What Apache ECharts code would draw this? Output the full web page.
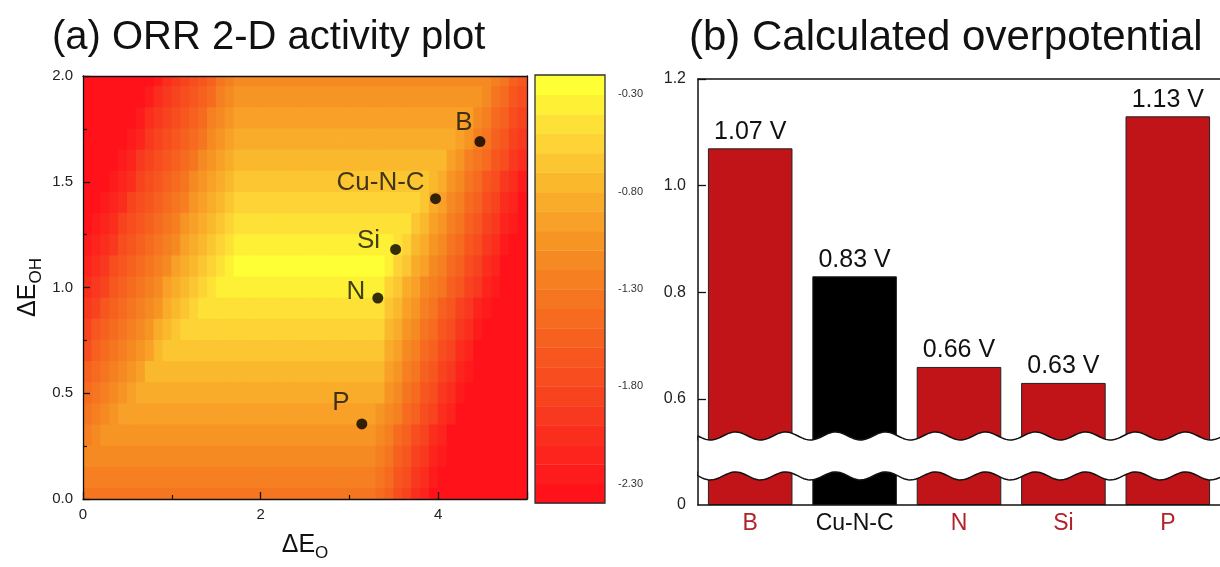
<!DOCTYPE html>
<html><head><meta charset="utf-8">
<script src="https://cdn.jsdelivr.net/npm/echarts@6/dist/echarts.min.js"></script>
<style>html,body{margin:0;padding:0;background:#fff}#c{width:1220px;height:567px}</style>
</head><body><div id="c"></div>
<script>
// ---------------- DATA ----------------
// (a) activity map: cell centres (dE_O columns, dE_OH rows) and values
const xCenters = [0.05,0.15,0.25,0.35,0.45,0.55,0.65,0.75,0.85,0.95,1.05,1.15,1.25,1.35,1.45,1.55,1.65,1.75,1.85,1.95,
  2.05,2.15,2.25,2.35,2.45,2.55,2.65,2.75,2.85,2.95,3.05,3.15,3.25,3.35,3.45,3.55,3.65,3.75,3.85,3.95,
  4.05,4.15,4.25,4.35,4.45,4.55,4.65,4.75,4.85,4.95];
const yCenters = [2.0,1.9,1.8,1.7,1.6,1.5,1.4,1.3,1.2,1.1,1.0,0.9,0.8,0.7,0.6,0.5,0.4,0.3,0.2,0.1,0.0];
const activityRows = [
 // 2.0
 [-2.4,-2.4,-2.4,-2.4,-2.4,-2.4,-2.4,-2.32,-2.21,-2.09,-1.97,-1.86,-1.74,-1.63,-1.51,-1.39,-1.28,-1.17,
  -1.15,-1.15,-1.15,-1.15,-1.15,-1.15,-1.15,-1.15,-1.15,-1.15,
  -1.15,-1.15,-1.15,-1.15,-1.15,-1.15,-1.15,-1.15,-1.15,-1.15,
  -1.15,-1.15,-1.15,-1.15,-1.15,-1.15,-1.15,-1.15,
  -1.22,-1.37,-1.52,-1.67],
 // 1.9
 [-2.4,-2.4,-2.4,-2.4,-2.4,-2.4,-2.32,-2.21,-2.09,-1.98,-1.86,-1.75,-1.63,-1.52,-1.41,-1.29,-1.17,-1.06,
  -1.05,-1.05,-1.05,-1.05,-1.05,-1.05,-1.05,-1.05,-1.05,-1.05,
  -1.05,-1.05,-1.05,-1.05,-1.05,-1.05,-1.05,-1.05,-1.05,-1.05,
  -1.05,-1.05,-1.05,-1.05,-1.05,-1.05,-1.05,
  -1.18,-1.33,-1.48,-1.62,-1.77],
 // 1.8
 [-2.4,-2.4,-2.4,-2.4,-2.4,-2.33,-2.21,-2.09,-1.98,-1.87,-1.75,-1.64,-1.52,-1.41,-1.29,-1.18,-1.06,
  -0.95,-0.95,-0.95,-0.95,-0.95,-0.95,-0.95,-0.95,-0.95,-0.95,
  -0.95,-0.95,-0.95,-0.95,-0.95,-0.95,-0.95,-0.95,-0.95,-0.95,
  -0.95,-0.95,-0.95,-0.95,-0.95,-0.95,
  -0.99,-1.14,-1.28,-1.43,-1.58,-1.73,-1.88],
 // 1.7
 [-2.4,-2.4,-2.4,-2.4,-2.34,-2.22,-2.11,-1.99,-1.88,-1.76,-1.65,-1.53,-1.42,-1.31,-1.19,-1.07,-0.96,
  -0.85,-0.85,-0.85,-0.85,-0.85,-0.85,-0.85,-0.85,-0.85,-0.85,
  -0.85,-0.85,-0.85,-0.85,-0.85,-0.85,-0.85,-0.85,-0.85,-0.85,
  -0.85,-0.85,-0.85,-0.85,-0.85,
  -0.94,-1.09,-1.24,-1.39,-1.54,-1.69,-1.84,-1.99],
 // 1.6
 [-2.4,-2.4,-2.4,-2.34,-2.23,-2.11,-1.99,-1.88,-1.77,-1.65,-1.54,-1.42,-1.31,-1.19,-1.08,-0.96,-0.85,
  -0.75,-0.75,-0.75,-0.75,-0.75,-0.75,-0.75,-0.75,-0.75,-0.75,
  -0.75,-0.75,-0.75,-0.75,-0.75,-0.75,-0.75,-0.75,-0.75,-0.75,
  -0.75,-0.75,-0.75,-0.75,
  -0.91,-1.05,-1.21,-1.35,-1.49,-1.65,-1.79,-1.95,-2.09],
 // 1.5
 [-2.4,-2.4,-2.35,-2.23,-2.12,-2.01,-1.89,-1.77,-1.66,-1.54,-1.43,-1.31,-1.19,-1.08,-0.97,-0.85,-0.74,
  -0.65,-0.65,-0.65,-0.65,-0.65,-0.65,-0.65,-0.65,-0.65,-0.65,
  -0.65,-0.65,-0.65,-0.65,-0.65,-0.65,-0.65,-0.65,-0.65,-0.65,
  -0.65,-0.65,
  -0.71,-0.86,-1.01,-1.16,-1.31,-1.46,-1.61,-1.76,-1.91,-2.05,-2.21],
 // 1.4
 [-2.4,-2.35,-2.24,-2.12,-2.01,-1.89,-1.78,-1.66,-1.55,-1.43,-1.32,-1.21,-1.09,-0.97,-0.86,-0.74,-0.63,
  -0.55,-0.55,-0.55,-0.55,-0.55,-0.55,-0.55,-0.55,-0.55,-0.55,
  -0.55,-0.55,-0.55,-0.55,-0.55,-0.55,-0.55,-0.55,-0.55,-0.55,
  -0.55,
  -0.67,-0.82,-0.97,-1.12,-1.27,-1.42,-1.57,-1.71,-1.86,-2.01,-2.16,-2.31],
 // 1.3
 [-2.36,-2.24,-2.13,-2.01,-1.89,-1.78,-1.67,-1.55,-1.44,-1.32,-1.21,-1.09,-0.98,-0.86,-0.75,-0.63,-0.52,
  -0.45,-0.45,-0.45,-0.45,-0.45,-0.45,-0.45,-0.45,-0.45,-0.45,
  -0.45,-0.45,-0.45,-0.45,-0.45,-0.45,-0.45,-0.45,-0.45,
  -0.48,-0.63,-0.78,-0.93,-1.08,-1.23,-1.38,-1.52,-1.67,-1.82,-1.97,-2.12,-2.27,-2.4],
 // 1.2
 [-2.25,-2.14,-2.02,-1.91,-1.79,-1.68,-1.56,-1.45,-1.33,-1.22,-1.11,-0.99,-0.87,-0.76,-0.64,-0.53,-0.41,
  -0.35,-0.35,-0.35,-0.35,-0.35,-0.35,-0.35,-0.35,-0.35,-0.35,
  -0.35,-0.35,-0.35,-0.35,-0.35,-0.35,-0.35,-0.35,
  -0.44,-0.59,-0.74,-0.89,-1.04,-1.18,-1.33,-1.48,-1.63,-1.78,-1.93,-2.08,-2.23,-2.38,-2.4],
 // 1.1
 [-2.14,-2.03,-1.91,-1.79,-1.68,-1.57,-1.45,-1.34,-1.22,-1.11,-0.99,-0.88,-0.76,-0.65,-0.53,-0.42,-0.31,
  -0.25,-0.25,-0.25,-0.25,-0.25,-0.25,-0.25,-0.25,-0.25,-0.25,
  -0.25,-0.25,-0.25,-0.25,-0.25,-0.25,-0.25,
  -0.39,-0.55,-0.69,-0.84,-0.99,-1.14,-1.29,-1.44,-1.59,-1.74,-1.89,-2.04,-2.19,-2.34,-2.4,-2.4],
 // 1.0
 [-2.03,-1.92,-1.81,-1.69,-1.57,-1.46,-1.34,-1.23,-1.11,-0.99,-0.88,-0.77,-0.65,-0.54,-0.42,
  -0.35,-0.35,-0.35,-0.35,-0.35,-0.35,-0.35,-0.35,-0.35,-0.35,
  -0.35,-0.35,-0.35,-0.35,-0.35,-0.35,-0.35,-0.35,-0.35,
  -0.51,-0.65,-0.81,-0.95,-1.11,-1.25,-1.39,-1.55,-1.69,-1.85,-1.99,-2.14,-2.29,-2.4,-2.4,-2.4],
 // 0.9
 [-1.92,-1.81,-1.69,-1.58,-1.46,-1.35,-1.23,-1.12,-1.01,-0.89,-0.77,-0.66,-0.54,
  -0.45,-0.45,-0.45,-0.45,-0.45,-0.45,-0.45,-0.45,-0.45,-0.45,
  -0.45,-0.45,-0.45,-0.45,-0.45,-0.45,-0.45,-0.45,-0.45,-0.45,
  -0.46,-0.61,-0.76,-0.91,-1.06,-1.21,-1.36,-1.51,-1.66,-1.81,-1.95,-2.11,-2.25,-2.4,-2.4,-2.4,-2.4],
 // 0.8
 [-1.81,-1.69,-1.58,-1.47,-1.35,-1.24,-1.12,-1.01,-0.89,-0.78,-0.66,
  -0.55,-0.55,-0.55,-0.55,-0.55,-0.55,-0.55,-0.55,-0.55,-0.55,
  -0.55,-0.55,-0.55,-0.55,-0.55,-0.55,-0.55,-0.55,-0.55,-0.55,
  -0.55,-0.55,
  -0.57,-0.72,-0.87,-1.02,-1.17,-1.32,-1.47,-1.61,-1.76,-1.91,-2.06,-2.21,-2.36,-2.4,-2.4,-2.4,-2.4],
 // 0.7
 [-1.71,-1.59,-1.48,-1.36,-1.25,-1.13,-1.02,-0.91,-0.79,-0.67,
  -0.65,-0.65,-0.65,-0.65,-0.65,-0.65,-0.65,-0.65,-0.65,-0.65,
  -0.65,-0.65,-0.65,-0.65,-0.65,-0.65,-0.65,-0.65,-0.65,-0.65,
  -0.65,-0.65,-0.65,
  -0.68,-0.83,-0.98,-1.13,-1.28,-1.42,-1.57,-1.72,-1.87,-2.02,-2.17,-2.32,-2.4,-2.4,-2.4,-2.4,-2.4],
 // 0.6
 [-1.59,-1.48,-1.37,-1.25,-1.14,-1.02,-0.91,-0.79,
  -0.75,-0.75,-0.75,-0.75,-0.75,-0.75,-0.75,-0.75,-0.75,-0.75,
  -0.75,-0.75,-0.75,-0.75,-0.75,-0.75,-0.75,-0.75,-0.75,-0.75,
  -0.75,-0.75,-0.75,-0.75,-0.75,
  -0.79,-0.94,-1.08,-1.23,-1.38,-1.53,-1.68,-1.83,-1.98,-2.13,-2.28,-2.4,-2.4,-2.4,-2.4,-2.4,-2.4],
 // 0.5
 [-1.49,-1.37,-1.26,-1.14,-1.03,-0.91,
  -0.85,-0.85,-0.85,-0.85,-0.85,-0.85,-0.85,-0.85,-0.85,-0.85,
  -0.85,-0.85,-0.85,-0.85,-0.85,-0.85,-0.85,-0.85,-0.85,-0.85,
  -0.85,-0.85,-0.85,-0.85,-0.85,-0.85,-0.85,
  -0.89,-1.04,-1.19,-1.34,-1.49,-1.64,-1.79,-1.94,-2.09,-2.24,-2.38,-2.4,-2.4,-2.4,-2.4,-2.4,-2.4],
 // 0.4
 [-1.38,-1.26,-1.15,-1.03,
  -0.95,-0.95,-0.95,-0.95,-0.95,-0.95,-0.95,-0.95,-0.95,-0.95,
  -0.95,-0.95,-0.95,-0.95,-0.95,-0.95,-0.95,-0.95,-0.95,-0.95,
  -0.95,-0.95,-0.95,-0.95,-0.95,-0.95,-0.95,-0.95,-0.95,
  -1.01,-1.15,-1.29,-1.45,-1.59,-1.75,-1.89,-2.04,-2.19,-2.34,-2.4,-2.4,-2.4,-2.4,-2.4,-2.4,-2.4],
 // 0.3
 [-1.27,-1.15,
  -1.05,-1.05,-1.05,-1.05,-1.05,-1.05,-1.05,-1.05,-1.05,-1.05,
  -1.05,-1.05,-1.05,-1.05,-1.05,-1.05,-1.05,-1.05,-1.05,-1.05,
  -1.05,-1.05,-1.05,-1.05,-1.05,-1.05,-1.05,-1.05,-1.05,-1.05,
  -1.05,
  -1.11,-1.26,-1.41,-1.56,-1.71,-1.85,-2.01,-2.15,-2.31,-2.4,-2.4,-2.4,-2.4,-2.4,-2.4,-2.4,-2.4],
 // 0.2
 [-1.16,
  -1.15,-1.15,-1.15,-1.15,-1.15,-1.15,-1.15,-1.15,-1.15,-1.15,
  -1.15,-1.15,-1.15,-1.15,-1.15,-1.15,-1.15,-1.15,-1.15,-1.15,
  -1.15,-1.15,-1.15,-1.15,-1.15,-1.15,-1.15,-1.15,-1.15,-1.15,
  -1.15,-1.15,
  -1.22,-1.37,-1.51,-1.66,-1.81,-1.96,-2.11,-2.26,-2.4,-2.4,-2.4,-2.4,-2.4,-2.4,-2.4,-2.4,-2.4],
 // 0.1
 [-1.25,-1.25,-1.25,-1.25,-1.25,-1.25,-1.25,-1.25,-1.25,-1.25,
  -1.25,-1.25,-1.25,-1.25,-1.25,-1.25,-1.25,-1.25,-1.25,-1.25,
  -1.25,-1.25,-1.25,-1.25,-1.25,-1.25,-1.25,-1.25,-1.25,-1.25,
  -1.25,-1.25,-1.25,
  -1.32,-1.47,-1.62,-1.77,-1.92,-2.07,-2.22,-2.37,-2.4,-2.4,-2.4,-2.4,-2.4,-2.4,-2.4,-2.4,-2.4],
 // 0.0
 [-1.35,-1.35,-1.35,-1.35,-1.35,-1.35,-1.35,-1.35,-1.35,-1.35,
  -1.35,-1.35,-1.35,-1.35,-1.35,-1.35,-1.35,-1.35,-1.35,-1.35,
  -1.35,-1.35,-1.35,-1.35,-1.35,-1.35,-1.35,-1.35,-1.35,-1.35,
  -1.35,-1.35,-1.35,
  -1.43,-1.58,-1.73,-1.88,-2.03,-2.18,-2.33,-2.4,-2.4,-2.4,-2.4,-2.4,-2.4,-2.4,-2.4,-2.4,-2.4]
];
// colour bar: lower bound of each 0.1-wide band, and the labelled levels
const colorLevels = [-2.4,-2.3,-2.2,-2.1,-2.0,-1.9,-1.8,-1.7,-1.6,-1.5,-1.4,-1.3,-1.2,-1.1,-1.0,-0.9,-0.8,-0.7,-0.6,-0.5,-0.4,-0.3];
const colorTickLabels = [-2.3,-1.8,-1.3,-0.8,-0.3];
// dopant points on the activity map
const dopantNames = ['B','Cu-N-C','Si','N','P'];
const dopantEO  = [4.47,3.97,3.52,3.32,3.14];
const dopantEOH = [1.69,1.42,1.18,0.95,0.355];
// (b) calculated overpotential (V)
const barCategories = ['B','Cu-N-C','N','Si','P'];
const overpotential = [1.07,0.83,0.66,0.63,1.13];
const barYTickLabels = [0,0.6,0.8,1.0,1.2];
const axisBreak = [0.062,0.523];

activityRows.forEach((r,i)=>{ if(r.length!==xCenters.length) throw new Error('row '+i+' has '+r.length); });
if(activityRows.length!==yCenters.length) throw new Error('rows');

// ---------------- STYLE ----------------
const FONT = 'Liberation Sans, Arial, Helvetica, sans-serif';
const INK = '#111';
const colorRamp = ['#ff121a','#fb2a1e','#f8461f','#f6601f','#f57a20','#f79624','#fab52c','#fdd836','#ffff35'];
const RED = '#c11419', RED_TXT = '#b3222a';
const labelOffsets = {'B':[-16,-19],'Cu-N-C':[-55,-16],'Si':[-27,-9],'N':[-22,-6],'P':[-21,-21]};
const barColors = {'Cu-N-C':'#000'};
const catTextColors = {'Cu-N-C':'#111'};
const WAVE_A = 4, WAVE_P = 50;

const heatData = [];
yCenters.forEach((y,i)=>xCenters.forEach((x,j)=>heatData.push([x,y,activityRows[i][j]])));
const cellW = xCenters[1]-xCenters[0], cellH = yCenters[0]-yCenters[1];
const cbData = colorLevels.map(lo=>[lo, +(lo+0.1).toFixed(2), +(lo+0.05).toFixed(3)]);

const chart = echarts.init(document.getElementById('c'), null, {renderer:'canvas'});
const axisLineStyle = {color:INK, width:1.3};
const titleStyle = {fontWeight:'normal', color:INK, fontFamily:FONT};
const option = {
  backgroundColor:'#fff',
  animation:false,
  textStyle:{fontFamily:FONT},
  title:[
    {text:'(a) ORR 2-D activity plot', left:47, top:13, textStyle:Object.assign({fontSize:40}, titleStyle)},
    {text:'(b) Calculated overpotential', left:684, top:12, textStyle:Object.assign({fontSize:42}, titleStyle)}
  ],
  grid:[
    {left:83, top:76, width:444, height:426},
    {left:535, top:75, width:70, height:428},
    {left:698, top:79, right:-3, bottom:62}
  ],
  visualMap:{type:'piecewise', show:false, min:-2.4, max:-0.2, splitNumber:22, dimension:2, seriesIndex:[0,2],
    inRange:{color:colorRamp}},
  xAxis:[
    {gridIndex:0, type:'value', min:0, max:5, interval:2, z:10,
     axisLine:{show:true, onZero:false, lineStyle:axisLineStyle},
     axisTick:{show:true, inside:true, length:7, lineStyle:{color:INK, width:1.3}},
     minorTick:{show:true, splitNumber:2, length:4, lineStyle:{color:INK, width:1.2}},
     axisLabel:{fontSize:15, color:'#222', margin:8, formatter:v=>(Math.round(v)%2===0 ? String(v) : '')},
     splitLine:{show:false},
     name:'{d|ΔE}{s|O}', nameLocation:'middle', nameGap:30,
     nameTextStyle:{rich:{d:{fontSize:25, color:INK, fontFamily:FONT}, s:{fontSize:17, color:INK, fontFamily:FONT, padding:[16,0,0,0]}}}},
    {gridIndex:0, type:'value', min:0, max:5, position:'top', z:10,
     axisLine:{show:true, onZero:false, lineStyle:axisLineStyle}, axisTick:{show:false}, axisLabel:{show:false}, splitLine:{show:false}},
    {gridIndex:1, type:'value', min:0, max:1, show:false},
    {gridIndex:2, type:'category', data:barCategories.map(c=>({value:c, textStyle:{color:catTextColors[c]||RED_TXT}})),
     axisLine:{show:true, lineStyle:{color:INK, width:1.5}}, axisTick:{show:false},
     axisLabel:{fontSize:23, margin:7, fontFamily:FONT}, z:10},
    {gridIndex:2, type:'value', min:0, max:1, position:'top',
     axisLine:{show:true, onZero:false, lineStyle:{color:INK, width:1.5}}, axisTick:{show:false}, axisLabel:{show:false}, splitLine:{show:false}}
  ],
  yAxis:[
    {gridIndex:0, type:'value', min:0, max:2, interval:0.5, z:10,
     axisLine:{show:true, onZero:false, lineStyle:axisLineStyle},
     axisTick:{show:true, inside:true, length:7, lineStyle:{color:INK, width:1.3}},
     minorTick:{show:true, splitNumber:2, length:4, lineStyle:{color:INK, width:1.2}},
     axisLabel:{fontSize:15, color:'#222', margin:10, formatter:v=>v.toFixed(1)},
     splitLine:{show:false},
     name:'{d|ΔE}{s|OH}', nameLocation:'middle', nameGap:38, nameRotate:90,
     nameTextStyle:{rich:{d:{fontSize:25, color:INK, fontFamily:FONT}, s:{fontSize:17, color:INK, fontFamily:FONT, padding:[16,0,0,0]}}}},
    {gridIndex:0, type:'value', min:0, max:2, position:'right', z:10,
     axisLine:{show:true, onZero:false, lineStyle:axisLineStyle}, axisTick:{show:false}, axisLabel:{show:false}, splitLine:{show:false}},
    {gridIndex:1, type:'value', min:-2.4, max:-0.2, interval:0.1, position:'right',
     axisLine:{show:false}, axisTick:{show:false}, splitLine:{show:false},
     axisLabel:{fontSize:11, color:'#333', margin:13,
       formatter:v=>colorTickLabels.some(t=>Math.round(t*10)===Math.round(v*10)) ? v.toFixed(2) : ''}},
    {gridIndex:2, type:'value', min:0, max:1.2, interval:0.2, z:10,
     breaks:[{start:axisBreak[0], end:axisBreak[1], gap:'7.5%'}],
     breakArea:{show:false, expandOnClick:false},
     axisLine:{show:true, onZero:false, lineStyle:{color:INK, width:1.5}},
     axisTick:{show:true, inside:true, length:8, lineStyle:{color:INK, width:1.3}, customValues:barYTickLabels.slice(1)},
     axisLabel:{fontSize:16, color:'#222', margin:12, customValues:barYTickLabels,
       formatter:v=>{ const k=barYTickLabels.find(t=>Math.abs(t-v)<1e-6); return k===undefined ? '' : (k===0 ? '0' : k.toFixed(1)); }},
     splitLine:{show:false}}
  ],
  series:[
    {type:'custom', xAxisIndex:0, yAxisIndex:0, clip:true, silent:true, z:1,
     encode:{x:0, y:1},
     renderItem:(params, api)=>{
       const x=api.value(0), y=api.value(1);
       const p1=api.coord([x-cellW/2, y+cellH/2]);
       const p2=api.coord([x+cellW/2, y-cellH/2]);
       return {type:'rect', shape:{x:p1[0]-0.4, y:p1[1]-0.4, width:p2[0]-p1[0]+0.8, height:p2[1]-p1[1]+0.8},
         style:{fill:api.visual('color')}};
     },
     data:heatData},
    {type:'scatter', xAxisIndex:0, yAxisIndex:0, z:5, symbol:'circle', symbolSize:11,
     itemStyle:{color:'#000'},
     data:dopantNames.map((n,i)=>({name:n, value:[dopantEO[i], dopantEOH[i]],
       label:{show:true, position:'inside', offset:labelOffsets[n], formatter:'{b}', fontSize:26, color:INK, fontFamily:FONT}}))},
    {type:'custom', xAxisIndex:2, yAxisIndex:2, silent:true, z:1,
     renderItem:(params, api)=>{
       const p1=api.coord([0, api.value(1)]);
       const p2=api.coord([1, api.value(0)]);
       return {type:'group', children:[
         {type:'rect', shape:{x:p1[0], y:p1[1]-0.5, width:p2[0]-p1[0], height:p2[1]-p1[1]+1}, style:{fill:api.visual('color')}},
         {type:'line', shape:{x1:p1[0], y1:p1[1], x2:p2[0], y2:p1[1]}, style:{stroke:'rgba(255,255,255,0.45)', lineWidth:1}}
       ]};
     },
     data:cbData},
    {type:'custom', xAxisIndex:2, yAxisIndex:2, silent:true, z:3,
     renderItem:(params, api)=>{
       const p1=api.coord([0, -0.2]), p2=api.coord([1, -2.4]);
       return {type:'rect', shape:{x:p1[0], y:p1[1], width:p2[0]-p1[0], height:p2[1]-p1[1]},
         style:{fill:'none', stroke:'#333', lineWidth:1.3}};
     },
     data:[[0]]},
    {type:'bar', xAxisIndex:3, yAxisIndex:3, barWidth:'81%', z:2,
     itemStyle:{color:p=>barColors[p.name]||RED, borderColor:'#222', borderWidth:1},
     label:{show:true, position:'top', distance:4, fontSize:25, color:INK, fontFamily:FONT,
       formatter:p=>p.value.toFixed(2)+' V'},
     data:overpotential},
    {type:'custom', xAxisIndex:3, yAxisIndex:3, silent:true, z:20,
     renderItem:(params, api)=>{
       const cs = params.coordSys;
       const yTop = api.coord([0, api.value(1)])[1] - WAVE_A;
       const yBot = api.coord([0, api.value(0)])[1] + WAVE_A;
       const x0 = cs.x, x1 = cs.x + cs.width + 6;
       const top = [], bot = [];
       for (let x = x0; x <= x1; x += 2) {
         const s = WAVE_A * Math.sin(2*Math.PI*(x - x0)/WAVE_P);
         top.push([x, yTop + s]); bot.push([x, yBot + s]);
       }
       return {type:'group', children:[
         {type:'polygon', shape:{points:top.concat(bot.slice().reverse())}, style:{fill:'#fff'}},
         {type:'polyline', shape:{points:top}, style:{stroke:INK, lineWidth:1.5, fill:null}},
         {type:'polyline', shape:{points:bot}, style:{stroke:INK, lineWidth:1.5, fill:null}},
         {type:'line', shape:{x1:x0, y1:top[0][1], x2:x0, y2:bot[0][1]}, style:{stroke:INK, lineWidth:1.5}}
       ]};
     },
     data:[axisBreak]}
  ]
};
chart.setOption(option);
</script>
</body></html>
